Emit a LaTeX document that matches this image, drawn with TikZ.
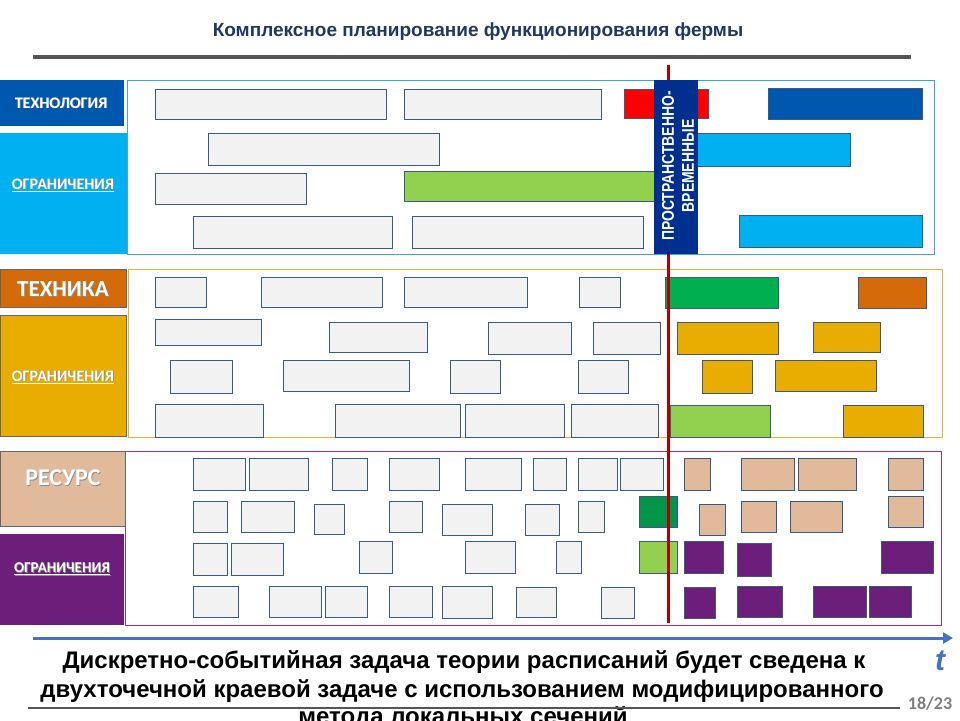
\documentclass[tikz,border=0pt]{standalone}
\usepackage{fontspec}
\setmainfont{Liberation Sans}
\newfontfamily\narrowfont[FakeStretch=0.82]{Liberation Sans}
\newfontfamily\labelfont{Carlito}
\usetikzlibrary{arrows.meta}

\definecolor{titlenavy}{HTML}{1F3864}
\definecolor{rulegray}{HTML}{555555}
\definecolor{boxgray}{HTML}{F2F2F2}
\definecolor{boxline}{HTML}{3A5A80}
\definecolor{techdark}{HTML}{0057AE}
\definecolor{techlight}{HTML}{00B0F0}
\definecolor{techframe}{HTML}{3AA9D0}
\definecolor{bannerblue}{HTML}{00308F}
\definecolor{redbox}{HTML}{FF0000}
\definecolor{greenlight}{HTML}{92D050}
\definecolor{greendark}{HTML}{00B050}
\definecolor{greenres}{HTML}{00964A}
\definecolor{orangebox}{HTML}{D46B08}
\definecolor{goldbox}{HTML}{E9AC00}
\definecolor{goldframe}{HTML}{E3B43C}
\definecolor{tanbox}{HTML}{E0BA9B}
\definecolor{purplebox}{HTML}{6C1E7A}
\definecolor{purpleframe}{HTML}{A2337F}
\definecolor{timered}{HTML}{B00000}
\definecolor{arrowblue}{HTML}{4472C4}

\tikzset{
  gbox/.style={draw=boxline, fill=boxgray, line width=0.9pt},
  cbox/.style={draw=boxline, fill=#1, line width=0.9pt},
  sidetext/.style={text=white, font=\labelfont\bfseries\fontsize{#1}{#1}\selectfont},
  sideshadow/.style={text=black!45, font=\labelfont\bfseries\fontsize{#1}{#1}\selectfont},
  sumline/.style={anchor=base, font=\bfseries\fontsize{24}{24}\selectfont},
}

\begin{document}
\begin{tikzpicture}[x=1pt,y=-1pt]
    \clip (0,0) rectangle (960,720);
    \fill[white] (0,0) rectangle (960,720);

    % Title and rule
    \node[text=titlenavy, font=\bfseries\fontsize{19}{21}\selectfont] (title) at (478,32) {Комплексное планирование функционирования фермы};
    \draw[rulegray, line width=4pt] (33,57) -- (911,57);

    % ---- technology block ----
    \draw[techframe, line width=1pt] (127,80) rectangle (934,254);
    \fill[techdark] (0,80) rectangle (124,126);
    \fill[techlight] (0,133) rectangle (127,254);
    \node[sideshadow=16] (techS) at (61.8,103.8) {ТЕХНОЛОГИЯ};
    \node[sidetext=16] (tech) at (61,103) {ТЕХНОЛОГИЯ};
    \node[sideshadow=16] (techlimS) at (63.8,185.8) {\underline{ОГРАНИЧЕНИЯ}};
    \node[sidetext=16] (techlim) at (63,185) {\underline{ОГРАНИЧЕНИЯ}};

    \draw[gbox] (155,89) rectangle (386,119);
    \draw[gbox] (404,89) rectangle (601,119);
    \draw[cbox=redbox] (624,89) rectangle (708,118);
    \draw[cbox=techdark] (768,88) rectangle (922,119);

    \draw[gbox] (208,133) rectangle (439,165);
    \draw[cbox=techlight] (690,133) rectangle (850,166);

    \draw[gbox] (155,173) rectangle (306,204);
    \draw[cbox=greenlight] (404,171) rectangle (660,201);

    \draw[gbox] (193,216) rectangle (392,248);
    \draw[gbox] (412,216) rectangle (643,248);
    \draw[cbox=techlight] (739,215) rectangle (922,247);

    % ---- machinery block ----
    \draw[goldframe, line width=1pt] (128,269) rectangle (942,437);
    \fill[orangebox, draw=black!60] (0,269) rectangle (126,307);
    \fill[goldbox, draw=black!60] (0,315) rectangle (126,436);
    \node[sideshadow=23] (machS) at (63.8,289.8) {ТЕХНИКА};
    \node[sidetext=23] (mach) at (63,289) {ТЕХНИКА};
    \node[sideshadow=16] (machlimS) at (63.8,377.8) {\underline{ОГРАНИЧЕНИЯ}};
    \node[sidetext=16] (machlim) at (63,377) {\underline{ОГРАНИЧЕНИЯ}};

    \draw[gbox] (155,277) rectangle (206,307);
    \draw[gbox] (261,277) rectangle (382,307);
    \draw[gbox] (404,277) rectangle (527,307);
    \draw[gbox] (579,277) rectangle (620,307);
    \draw[cbox=greendark] (665,277) rectangle (778,308);
    \draw[cbox=orangebox] (858,277) rectangle (926,308);

    \draw[gbox] (155,319) rectangle (261,345);
    \draw[gbox] (329,322) rectangle (427,352);
    \draw[gbox] (488,322) rectangle (571,354);
    \draw[gbox] (593,322) rectangle (660,354);
    \draw[cbox=goldbox] (677,322) rectangle (778,354);
    \draw[cbox=goldbox] (813,322) rectangle (880,352);

    \draw[gbox] (170,360) rectangle (232,393);
    \draw[gbox] (283,360) rectangle (409,391);
    \draw[gbox] (450,360) rectangle (500,393);
    \draw[gbox] (578,360) rectangle (628,393);
    \draw[cbox=goldbox] (702,360) rectangle (752,393);
    \draw[cbox=goldbox] (775,360) rectangle (876,391);

    \draw[gbox] (155,404) rectangle (263,437);
    \draw[gbox] (335,404) rectangle (460,437);
    \draw[gbox] (465,404) rectangle (564,437);
    \draw[gbox] (571,404) rectangle (658,437);
    \draw[cbox=greenlight] (670,405) rectangle (770,437);
    \draw[cbox=goldbox] (843,405) rectangle (923,437);

    % ---- resource block ----
    \draw[purpleframe, line width=1pt] (125,451) rectangle (941,625);
    \fill[tanbox, draw=black!60] (0,451) rectangle (125,526);
    \fill[purplebox] (0,534) rectangle (124,625);
    \node[sideshadow=24] (resS) at (63.8,478.8) {РЕСУРС};
    \node[sidetext=24] (res) at (63,478) {РЕСУРС};
    \node[sideshadow=15] (reslimS) at (62.8,569.8) {\underline{ОГРАНИЧЕНИЯ}};
    \node[sidetext=15] (reslim) at (62,569) {\underline{ОГРАНИЧЕНИЯ}};

    \draw[gbox] (193,458) rectangle (245,490);
    \draw[gbox] (249,458) rectangle (308,490);
    \draw[gbox] (332,458) rectangle (367,490);
    \draw[gbox] (389,458) rectangle (439,490);
    \draw[gbox] (465,458) rectangle (521,490);
    \draw[gbox] (533,458) rectangle (566,490);
    \draw[gbox] (578,458) rectangle (617,490);
    \draw[gbox] (620,458) rectangle (663,490);
    \draw[cbox=tanbox] (684,458) rectangle (710,490);
    \draw[cbox=tanbox] (741,458) rectangle (794,490);
    \draw[cbox=tanbox] (798,458) rectangle (856,490);
    \draw[cbox=tanbox] (888,458) rectangle (923,490);

    \draw[gbox] (193,501) rectangle (227,532);
    \draw[gbox] (241,501) rectangle (294,532);
    \draw[gbox] (314,504) rectangle (344,534);
    \draw[gbox] (389,501) rectangle (422,532);
    \draw[gbox] (442,504) rectangle (492,535);
    \draw[gbox] (525,504) rectangle (559,535);
    \draw[gbox] (578,501) rectangle (604,532);
    \draw[cbox=greenres] (639,496) rectangle (677,527);
    \draw[cbox=tanbox] (699,504) rectangle (725,535);
    \draw[cbox=tanbox] (741,501) rectangle (776,532);
    \draw[cbox=tanbox] (790,501) rectangle (842,532);
    \draw[cbox=tanbox] (888,496) rectangle (923,527);

    \draw[gbox] (193,543) rectangle (227,575);
    \draw[gbox] (231,543) rectangle (283,575);
    \draw[gbox] (359,541) rectangle (392,573);
    \draw[gbox] (465,541) rectangle (515,573);
    \draw[gbox] (556,541) rectangle (581,573);
    \draw[cbox=greenlight] (639,541) rectangle (677,573);
    \draw[cbox=purplebox] (684,541) rectangle (723,573);
    \draw[cbox=purplebox] (737,543) rectangle (771,576);
    \draw[cbox=purplebox] (881,541) rectangle (933,573);

    \draw[gbox] (193,586) rectangle (238,617);
    \draw[gbox] (269,586) rectangle (321,617);
    \draw[gbox] (325,586) rectangle (367,617);
    \draw[gbox] (389,586) rectangle (432,617);
    \draw[gbox] (442,586) rectangle (492,618);
    \draw[gbox] (516,587) rectangle (556,617);
    \draw[gbox] (601,587) rectangle (634,618);
    \draw[cbox=purplebox] (684,587) rectangle (715,618);
    \draw[cbox=purplebox] (737,586) rectangle (782,617);
    \draw[cbox=purplebox] (813,586) rectangle (866,617);
    \draw[cbox=purplebox] (869,586) rectangle (911,617);

    % ---- current moment line and banner ----
    \coordinate (nowtop) at (668,65);
    \coordinate (nowbot) at (668,623);
    \draw[timered, line width=3pt] (nowtop) -- (nowbot);

    \fill[bannerblue] (654,80) rectangle (698,254);
    \node[rotate=90, text=white, align=center, font=\narrowfont\bfseries\fontsize{17}{20}\selectfont] (banner) at (678,166) {ПРОСТРАНСТВЕННО-\\ВРЕМЕННЫЕ};

    % ---- time axis ----
    \coordinate (tstart) at (33,638);
    \coordinate (tend) at (953,638);
    \draw[arrowblue, line width=3pt, -{Triangle[length=10pt,width=11pt]}] (tstart) -- (tend);
    \node[text=arrowblue, font=\bfseries\itshape\fontsize{30}{30}\selectfont] (tlabel) at (940,661) {t};

    % ---- bottom text ----
    \node[sumline] (sumA) at (464,668) {Дискретно-событийная задача теории расписаний будет сведена к};
    \node[sumline] (sumB) at (462,697) {двухточечной краевой задаче с использованием модифицированного};
    \node[sumline] (sumC) at (463,724) {метода локальных сечений};
    \draw[rulegray, line width=1.5pt] (28,708) -- (900,708);
    \node[text=black!50, font=\labelfont\bfseries\fontsize{18}{18}\selectfont] (page) at (930,704) {18/23};
\end{tikzpicture}
\end{document}
